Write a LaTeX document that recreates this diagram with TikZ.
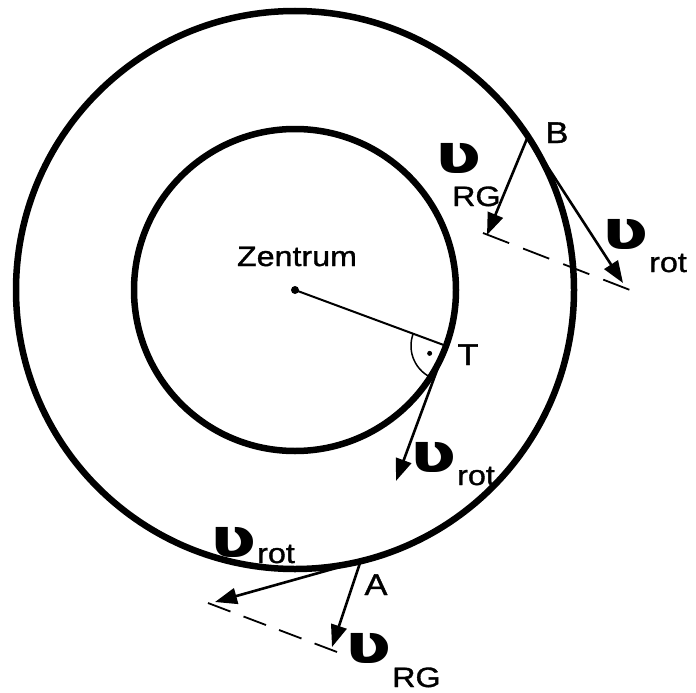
\documentclass[tikz,border=0pt]{standalone}
\usepackage{fontspec}
\setmainfont{Liberation Sans}[FakeStretch=1.15,FakeBold=1.2]
\newfontfamily\vfont{DejaVu Sans}[FakeStretch=1.25]
\newcommand\vsy{{\vfont\bfseries\fontsize{55}{60}\selectfont ʋ}}
\usetikzlibrary{arrows.meta,calc}
\begin{document}
\begin{tikzpicture}[x=1pt,y=-1pt,
  ring/.style={line width=6.5pt},
  radline/.style={line width=2pt},
  vec/.style={line width=2.6pt,-{Triangle[length=22pt,width=16pt]}},
  guide/.style={line width=1.8pt},
  lbl/.style={font=\fontsize{28}{32}\selectfont,inner sep=0pt},
  pt/.style={font=\fontsize{30}{34}\selectfont,inner sep=0pt,anchor=base},
  vl/.style={lbl,anchor=base west}]
\useasboundingbox (0,0) rectangle (696,693);
% geometry
\coordinate (C) at (295,290);
\coordinate (T) at ($(C)+(20.3:161)$);
\coordinate (B) at ($(C)+(-33.4:279)$);
\coordinate (A) at ($(C)+(76.4:279)$);
\coordinate (Trot) at ($(T)+(110.3:144)$);
\coordinate (Brot) at (623,283);
\coordinate (BRG) at (487,235);
\coordinate (Arot) at (215,602);
\coordinate (ARG) at (332,647);
\coordinate (dBs) at (483,233);
\coordinate (dBe) at (630,290);
\coordinate (dAs) at (208,603);
\coordinate (dAe) at (337,652);
% circles
\draw[ring] (C) circle[radius=279];
\draw[ring] (C) circle[radius=161];
% radius and right angle
\fill (C) circle[radius=4];
\draw[radline] (C) -- (T);
\draw[line width=1.5pt] (T) ++(110.3:35) arc[start angle=110.3,end angle=200.3,radius=35];
\fill ($(T)+(155.3:18)$) circle[radius=2.5];
% vectors
\draw[vec] (T) -- (Trot);
\draw[vec] (B) -- (Brot);
\draw[vec] (B) -- (BRG);
\draw[vec] (A) -- (Arot);
\draw[vec] (A) -- (ARG);
% dashed guides
\draw[guide,dash pattern=on 28pt off 15pt] (dBs) -- (dBe);
\draw[guide,dash pattern=on 24pt off 14pt] (dAs) -- (dAe);
% labels
\node[lbl,anchor=base] (zl) at (297,266) {Zentrum};
\node[pt] (tl) at (468,365) {T};
\node[pt] (bl) at (557,143) {B};
\node[pt] (al) at (376,595) {A};
\node[vl] (v1) at (435,173) {\rlap{\vsy}\kern17pt\raisebox{-33pt}{RG}};
\node[vl] (v2) at (602,249) {\vsy\kern1pt\raisebox{-23pt}{rot}};
\node[vl] (v3) at (410,472) {\vsy\kern1pt\raisebox{-13pt}{rot}};
\node[vl] (v4) at (210,557) {\vsy\kern1pt\raisebox{-6pt}{rot}};
\node[vl] (v5) at (345,663) {\vsy\kern1pt\raisebox{-24pt}{RG}};
\end{tikzpicture}
\end{document}
